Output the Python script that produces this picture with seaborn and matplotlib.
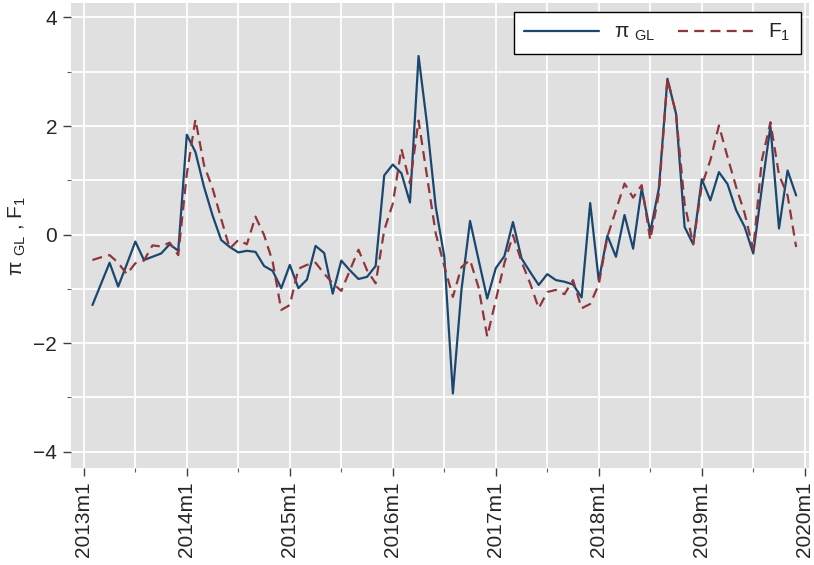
import matplotlib
matplotlib.use("Agg")
import matplotlib.pyplot as plt
import seaborn as sns
import pandas as pd

# --------------------------------------------
# DATA (2013m2 - 2019m12)
# --------------------------------------------
start_month = "2013-02"
end_month = "2019-12"

pi_gl = [-1.30, -0.91, -0.52, -0.96, -0.55, -0.13, -0.47, -0.41, -0.35, -0.18, -0.30,
         1.84, 1.52, 0.88, 0.35, -0.10, -0.23, -0.33, -0.30, -0.32, -0.58, -0.67, -0.99,
         -0.56, -0.99, -0.83, -0.21, -0.34, -1.09, -0.48, -0.66, -0.82, -0.78, -0.58,
         1.09, 1.29, 1.13, 0.59, 3.29, 2.02, 0.51, -0.41, -2.93, -1.02, 0.25, -0.47,
         -1.18, -0.62, -0.40, 0.23, -0.44, -0.69, -0.93, -0.73, -0.84, -0.87, -0.92,
         -1.16, 0.58, -0.85, -0.02, -0.41, 0.36, -0.26, 0.85, 0.05, 0.85, 2.87, 2.23,
         0.14, -0.18, 1.02, 0.63, 1.15, 0.93, 0.45, 0.14, -0.35, 0.85, 2.00, 0.11,
         1.18, 0.72]

f1 = [-0.47, -0.42, -0.38, -0.52, -0.73, -0.53, -0.48, -0.20, -0.22, -0.15, -0.38,
      1.12, 2.12, 1.28, 0.85, 0.29, -0.26, -0.10, -0.18, 0.33, -0.01, -0.50, -1.39,
      -1.30, -0.63, -0.56, -0.52, -0.72, -0.90, -1.04, -0.66, -0.28, -0.66, -0.90,
      0.08, 0.57, 1.58, 0.94, 2.10, 1.06, 0.02, -0.58, -1.15, -0.60, -0.47, -0.98,
      -1.88, -1.21, -0.53, -0.01, -0.50, -0.90, -1.36, -1.06, -1.02, -1.10, -0.84,
      -1.36, -1.28, -0.92, -0.04, 0.45, 0.94, 0.68, 0.91, -0.10, 0.75, 2.87, 2.23,
      0.57, -0.18, 0.90, 1.37, 2.01, 1.43, 0.88, 0.39, -0.28, 1.37, 2.07, 1.10,
      0.72, -0.23]

tick_years = list(range(2013, 2021))
tick_labels = [f"{y}m1" for y in tick_years]

months = pd.period_range(start_month, end_month, freq="M")
# stata-style monthly index, 0 = 2013m1
t = (months.year - 2013) * 12 + months.month - 1
df = pd.DataFrame({"t": t, "pi_gl": pi_gl, "f1": f1})

# --------------------------------------------
# STYLE
# --------------------------------------------
sns.set_theme(style="white")
plt.rcParams["font.family"] = ["Liberation Sans", "DejaVu Sans"]
plt.rcParams["mathtext.fontset"] = "custom"
plt.rcParams["mathtext.rm"] = "Liberation Sans"
plt.rcParams["mathtext.it"] = "Liberation Sans:italic"

navy = "#1a476f"
maroon = "#90353b"
bg = "#e0e0e0"

fig = plt.figure(figsize=(8.14, 5.65), dpi=100)
ax = fig.add_axes([0.0872, 0.172, 0.9067, 0.822])
ax.set_facecolor(bg)

# --------------------------------------------
# PLOT
# --------------------------------------------
sns.lineplot(data=df, x="t", y="pi_gl", color=navy, lw=1.6,
             label=r"π $_{\rm GL}$", ax=ax)
sns.lineplot(data=df, x="t", y="f1", color=maroon, lw=1.6,
             linestyle=(0, (4.5, 2.8)), label=r"F$_{\rm 1}$", ax=ax)

ax.set_xlim(-1.5, 84.5)
ax.set_ylim(-4.3, 4.26)

ax.set_xticks([(y - 2013) * 12 for y in tick_years])
ax.set_xticklabels(tick_labels, rotation=90, fontsize=15)
ax.set_xticks([(y - 2013) * 12 + 6 for y in tick_years[:-1]], minor=True)
ax.set_yticks([-4, -2, 0, 2, 4])
ax.set_yticklabels(["\u22124", "\u22122", "0", "2", "4"], fontsize=15)
ax.set_yticks([-3, -1, 1, 3], minor=True)

ax.grid(True, which="both", color="white", lw=1.3)
ax.set_axisbelow(True)
for s in ax.spines.values():
    s.set_visible(False)

ax.tick_params(axis="both", which="major", length=6, width=1, color="#404040",
               bottom=True, left=True, pad=4)
ax.tick_params(axis="both", which="minor", length=3, width=0.8, color="#606060",
               bottom=True, left=True)

ax.set_xlabel("")
ax.set_ylabel(r"π $_{\rm GL}$ , F$_{\rm 1}$", fontsize=15, labelpad=4)

leg = ax.legend(loc="upper right", ncol=2, fontsize=15, frameon=True,
                fancybox=False, edgecolor="black", framealpha=1,
                handlelength=3.6, columnspacing=1.1, borderaxespad=0.4,
                borderpad=0.5, handletextpad=0.7)
leg.get_frame().set_linewidth(1.0)

fig.savefig("out.png", dpi=100)
